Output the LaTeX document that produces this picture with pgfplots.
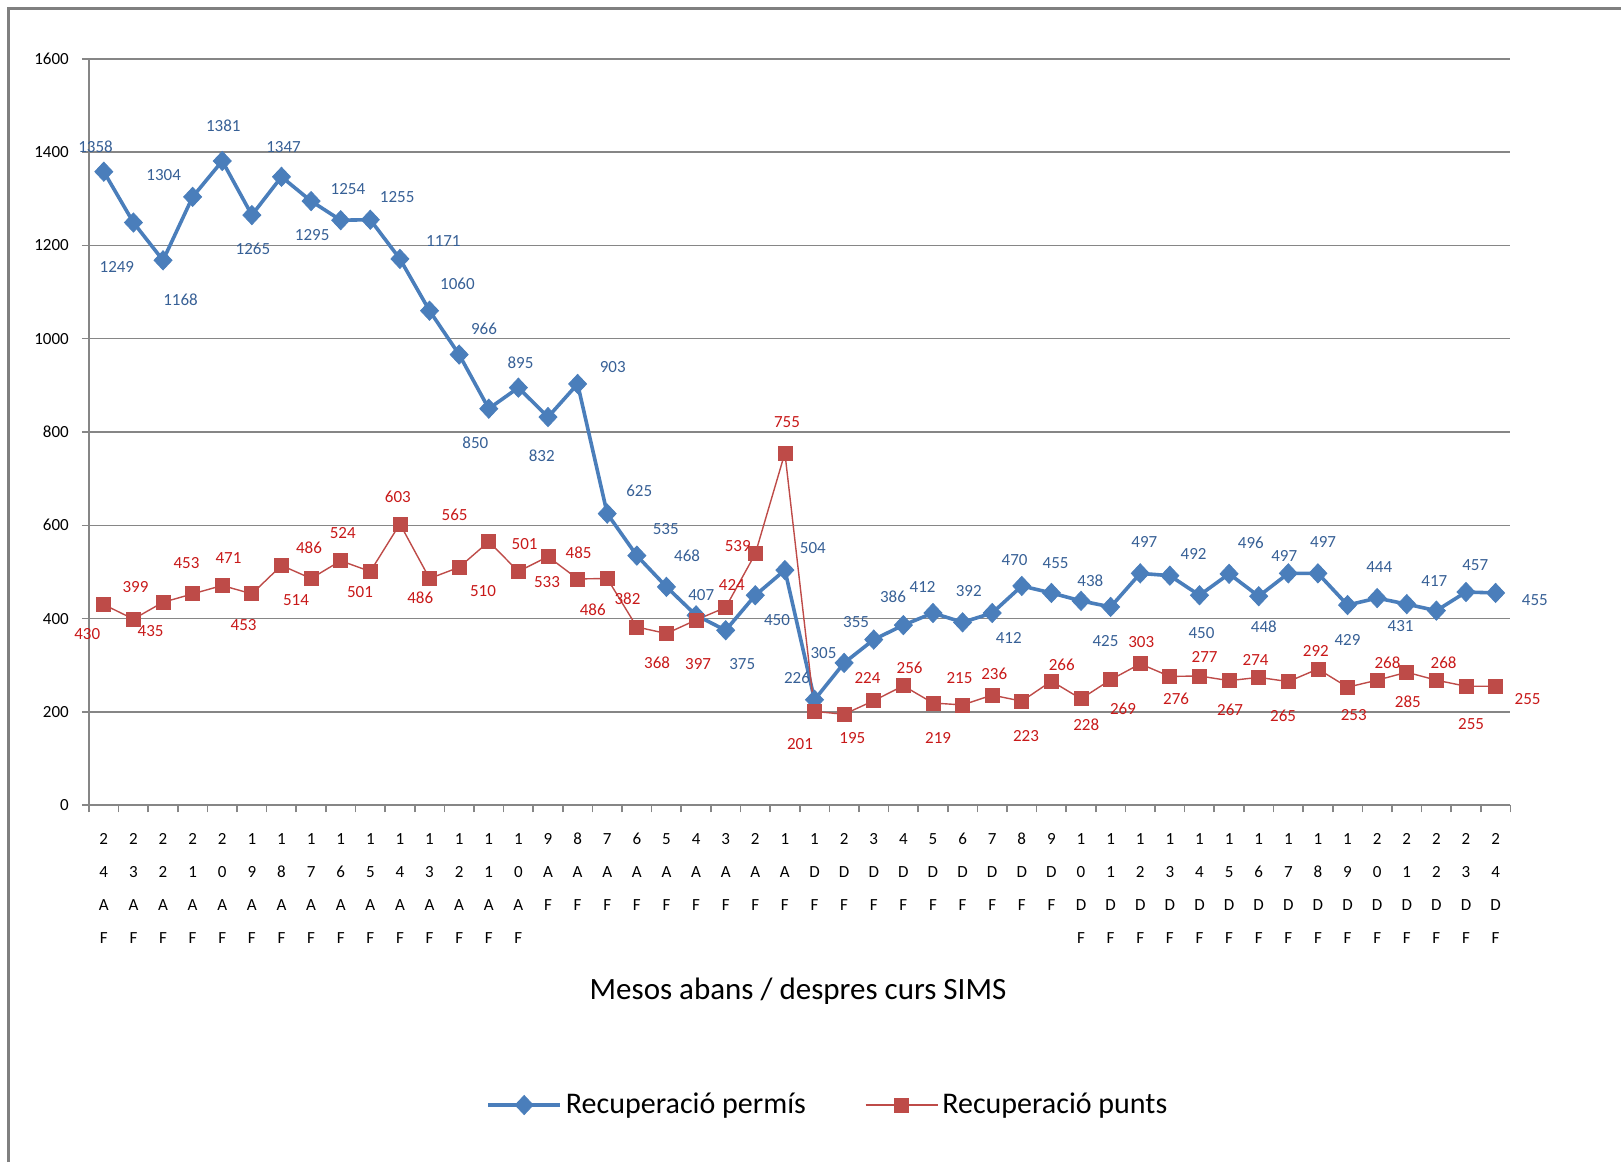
\documentclass[border=0pt]{standalone}
\usepackage{pgfplots}
\pgfplotsset{compat=1.18}
\usepackage{pgfplotstable}
\usepackage{fontspec}
\setmainfont{Carlito}
\definecolor{blueline}{RGB}{74,126,187}
\definecolor{redline}{RGB}{190,75,72}
\definecolor{bluelab}{RGB}{55,96,150}
\definecolor{redlab}{RGB}{200,25,25}
\definecolor{axgray}{RGB}{134,134,134}
\definecolor{framegray}{RGB}{128,128,128}
\newcommand{\st}{\rule{0pt}{6.6pt}}

\pgfplotstableread{
x y dx dy
0 1358 -8 -24
1 1249 -16 43
2 1168 17 38
3 1304 -28 -21
4 1381 1 -34
5 1265 1 33
6 1347 2 -29
7 1295 1 33
8 1254 7 -30
9 1255 26 -22
10 1171 42 -17
11 1060 27 -26
12 966 24 -25
13 850 -13 33
14 895 2 -24
15 832 -6 37
16 903 34 -16
17 625 31 -22
18 535 28 -26
19 468 20 -30
20 407 5 -20
21 375 16 33
22 450 21 24
23 504 27 -21
24 226 -17 -21
25 305 -20 -10
26 355 -17 -17
27 386 -10 -27
28 412 -10 -25
29 392 6 -30
30 412 16 24
31 470 -7 -25
32 455 4 -29
33 438 9 -19
34 425 -5 33
35 497 4 -30
36 492 23 -21
37 450 2 37
38 496 21 -30
39 448 5 30
40 497 -4 -17
41 497 5 -30
42 429 0 34
43 444 2 -30
44 431 -6 21
45 417 -2 -29
46 457 9 -26
47 455 38 7
}\permis

\pgfplotstableread{
x y dx dy
0 430 -16 28
1 399 2 -31
2 435 -12 28
3 453 -6 -30
4 471 6 -27
5 453 -8 30
6 514 14 34
7 486 -2 -30
8 524 2 -27
9 501 -10 20
10 603 -2 -26
11 486 -9 19
12 510 23 23
13 565 -33 -26
14 501 6 -27
15 533 -1 25
16 485 1 -25
17 486 -14 30
18 382 -9 -27
19 368 -9 28
20 397 2 43
21 424 6 -22
22 539 -17 -7
23 755 2 -30
24 201 -14 32
25 195 8 23
26 224 -6 -22
27 256 6 -17
28 219 5 34
29 215 -3 -26
30 236 2 -21
31 223 4 34
32 266 10 -16
33 228 5 25
34 269 12 28
35 303 1 -21
36 276 6 22
37 277 5 -18
38 267 1 28
39 274 -3 -17
40 265 -5 33
41 292 -2 -17
42 253 6 27
43 268 10 -17
44 285 1 29
45 268 7 -17
46 255 5 37
47 255 31 12
}\punts

\begin{document}
\begin{tikzpicture}
\useasboundingbox (0,0) rectangle (810.5pt,581pt);
\draw[framegray, line width=1.5pt] (4.1pt,0pt) -- (4.1pt,576.9pt) -- (810.5pt,576.9pt);
\begin{axis}[
  scale only axis,
  width=710.7pt, height=373.2pt,
  anchor=south west, at={(44.5pt,178.4pt)},
  xmin=-0.5, xmax=47.5, ymin=0, ymax=1600,
  clip=false,
  axis x line*=bottom, axis y line*=left,
  axis line style={draw=axgray, line width=0.8pt, -},
  ytick={0,200,...,1600},
  ymajorgrids,
  major grid style={draw=axgray, line width=0.8pt},
  tick align=outside,
  major tick length=3.6pt,
  minor tick length=3.6pt,
  tick style={draw=axgray, line width=0.8pt},
  xtick={0,...,47},
  xtick style={draw=none},
  minor xtick={-0.5,0.5,...,47.5},
  minor x tick style={draw=axgray, line width=0.8pt},
  xticklabels={{\st2\\4\\A\\F},{\st2\\3\\A\\F},{\st2\\2\\A\\F},{\st2\\1\\A\\F},{\st2\\0\\A\\F},{\st1\\9\\A\\F},{\st1\\8\\A\\F},{\st1\\7\\A\\F},{\st1\\6\\A\\F},{\st1\\5\\A\\F},{\st1\\4\\A\\F},{\st1\\3\\A\\F},{\st1\\2\\A\\F},{\st1\\1\\A\\F},{\st1\\0\\A\\F},{\st9\\A\\F},{\st8\\A\\F},{\st7\\A\\F},{\st6\\A\\F},{\st5\\A\\F},{\st4\\A\\F},{\st3\\A\\F},{\st2\\A\\F},{\st1\\A\\F},{\st1\\D\\F},{\st2\\D\\F},{\st3\\D\\F},{\st4\\D\\F},{\st5\\D\\F},{\st6\\D\\F},{\st7\\D\\F},{\st8\\D\\F},{\st9\\D\\F},{\st1\\0\\D\\F},{\st1\\1\\D\\F},{\st1\\2\\D\\F},{\st1\\3\\D\\F},{\st1\\4\\D\\F},{\st1\\5\\D\\F},{\st1\\6\\D\\F},{\st1\\7\\D\\F},{\st1\\8\\D\\F},{\st1\\9\\D\\F},{\st2\\0\\D\\F},{\st2\\1\\D\\F},{\st2\\2\\D\\F},{\st2\\3\\D\\F},{\st2\\4\\D\\F}},
  xticklabel style={align=center, anchor=north, yshift=-6pt, font=\fontsize{8.5}{16.5}\selectfont},
  yticklabel style={font=\fontsize{8.5}{10}\selectfont, xshift=-3pt},
  /pgf/number format/assume math mode=true,
  /pgf/number format/1000 sep={},
  legend style={at={(0.5205,-0.4017)}, anchor=center, draw=none, fill=none,
    legend columns=2, font=\fontsize{15}{18}\selectfont,
    /tikz/every even column/.append style={column sep=27.5pt}},
  legend image code/.code={\draw[mark repeat=2,mark phase=2,#1] plot coordinates {(0pt,0pt) (18pt,0pt) (36pt,0pt)};},
  point meta=explicit symbolic,
  nodes near coords,
  visualization depends on={\thisrow{dx}\as\dx},
  visualization depends on={\thisrow{dy}\as\dy},
  nodes near coords style={anchor=center, font=\fontsize{8.5}{10}\selectfont,
    xshift={0.517*(\dx)*1pt}, yshift={-0.517*(\dy)*1pt}},
]
\addplot[color=blueline, line width=1.8pt, mark=diamond*, mark size=4.8pt,
  mark options={fill=blueline, draw=blueline, line width=0.4pt, xscale=1.25},
  nodes near coords style={text=bluelab}]
  table[x=x, y=y, meta=y] {\permis};
\addlegendentry{Recuperació permís}
\addplot[color=redline, line width=0.7pt, mark=square*, mark size=3.5pt,
  mark options={fill=redline, draw=redline, line width=0.4pt},
  nodes near coords style={text=redlab}]
  table[x=x, y=y, meta=y] {\punts};
\addlegendentry{Recuperació punts}
\end{axis}
\node[font=\fontsize{15.5}{18}\selectfont] at (399pt,85.5pt) {Mesos abans / despres curs SIMS};
\end{tikzpicture}
\end{document}
